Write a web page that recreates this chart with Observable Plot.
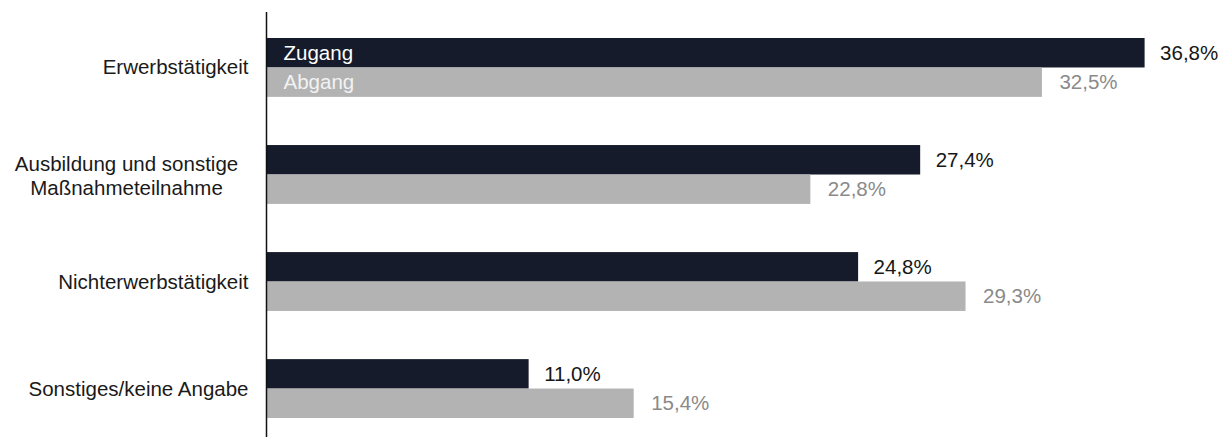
<!DOCTYPE html>
<html>
<head>
<meta charset="utf-8">
<script src="https://cdn.jsdelivr.net/npm/d3@7"></script>
<script src="https://cdn.jsdelivr.net/npm/@observablehq/plot@0.6"></script>
<style>
  html, body { margin: 0; padding: 0; background: #fff; }
  #chart svg { display: block; }
</style>
</head>
<body>
<div id="chart"></div>
<script>
const categories = [
  "Erwerbstätigkeit",
  "Ausbildung und sonstige\nMaßnahmeteilnahme",
  "Nichterwerbstätigkeit",
  "Sonstiges/keine Angabe"
];
const series = ["Zugang", "Abgang"];
const zugang = [36.8, 27.4, 24.8, 11.0];
const abgang = [32.5, 22.8, 29.3, 15.4];

const zData = categories.map((c, i) => ({cat: c, value: zugang[i]}));
const aData = categories.map((c, i) => ({cat: c, value: abgang[i]}));
const fmt = d => d.value.toFixed(1).replace(".", ",") + "%";

const font = "'Liberation Sans', Arial, Helvetica, sans-serif";
const dark = "#151b2a";
const gray = "#b3b3b3";
const half = 29.4;
const fs = 20.5;

const singleLine = categories.filter(c => !c.includes("\n"));
const multiLine = categories.filter(c => c.includes("\n"));

const chart = Plot.plot({
  width: 1221,
  height: 437,
  marginLeft: 266,
  marginRight: 0,
  marginTop: 38,
  marginBottom: 19,
  style: {fontFamily: font, fontSize: fs + "px", background: "#fff"},
  x: {domain: [0, 40], axis: null},
  y: {domain: categories, paddingInner: 0.45, paddingOuter: 0, round: false, axis: null},
  marks: [
    Plot.barX(zData, {x: "value", y: "cat", fill: dark, insetBottom: half}),
    Plot.barX(aData, {x: "value", y: "cat", fill: gray, insetTop: half}),
    Plot.text(zData, {x: "value", y: "cat", text: fmt, dy: -half / 2, dx: 15,
      textAnchor: "start", fill: "#161616", fontSize: fs}),
    Plot.text(aData, {x: "value", y: "cat", text: fmt, dy: half / 2, dx: 17,
      textAnchor: "start", fill: "#8a8a8a", fontSize: fs}),
    // series labels inside first group's bars
    Plot.text([{cat: categories[0], s: series[0]}], {x: 0, y: "cat", text: "s", dy: -half / 2, dx: 17,
      textAnchor: "start", fill: "#ffffff", fontSize: fs}),
    Plot.text([{cat: categories[0], s: series[1]}], {x: 0, y: "cat", text: "s", dy: half / 2, dx: 17,
      textAnchor: "start", fill: "#f2f2f2", fontSize: fs}),
    // category labels
    Plot.text(singleLine, {y: d => d, text: d => d, frameAnchor: "left", dx: -18,
      textAnchor: "end", fill: "#1a1a1a", fontSize: fs}),
    Plot.text(multiLine, {y: d => d, text: d => d, frameAnchor: "left", dx: -140,
      textAnchor: "middle", lineHeight: 1.2, fill: "#1a1a1a", fontSize: fs}),
    Plot.ruleX([0], {stroke: "#111", strokeWidth: 1.5, insetTop: -26, insetBottom: -19})
  ]
});
document.getElementById("chart").appendChild(chart);
</script>
</body>
</html>
